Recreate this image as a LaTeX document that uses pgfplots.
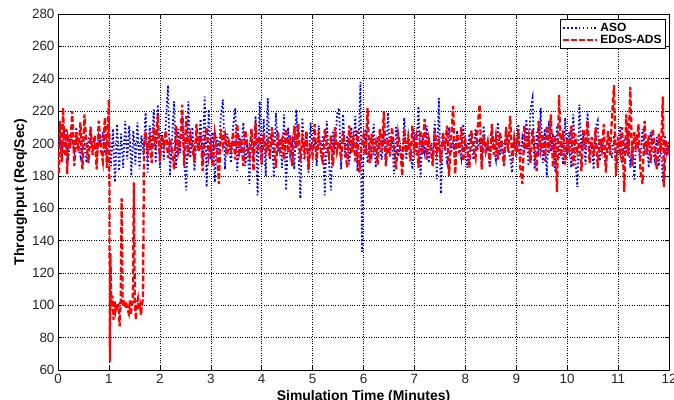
\documentclass[border=0pt]{standalone}
\usepackage{pgfplots}
\pgfplotsset{compat=1.18}
\usepackage{fontspec}
\setmainfont{Liberation Sans}

\definecolor{asoblue}{RGB}{0,0,255}
\definecolor{edosred}{RGB}{255,0,0}

\begin{document}
\begin{tikzpicture}
\path[use as bounding box] (-58bp,-30bp) rectangle (616bp,370bp);
\begin{axis}[
  scale only axis,
  width=611bp, height=356bp,
  xmin=0, xmax=12, ymin=60, ymax=280,
  xtick={0,1,...,12}, ytick={60,80,...,280},
  grid=major,
  major grid style={black, dotted, line width=0.5pt},
  axis line style={black, line width=0.6pt},
  tick style={black, line width=0.5pt},
  major tick length=4bp,
  /pgf/number format/assume math mode=true,
  ticklabel style={font=\fontsize{13.5}{15}\selectfont, text=black!85},
  xticklabel style={yshift=-1bp},
  label style={font=\bfseries\fontsize{14}{16}\selectfont},
  xlabel={Simulation Time (Minutes)},
  ylabel={Throughput (Req/Sec)},
  xlabel style={yshift=0bp},
  ylabel style={yshift=-2bp},
  legend style={at={(0.994,0.986)}, anchor=north east, draw=black,
    fill=white, font=\bfseries\fontsize{12}{13}\selectfont,
    inner sep=1.5pt, row sep=-1.5pt, line width=0.6pt},
  legend cell align=left,
  legend image code/.code={\draw[#1] (0bp,0bp) -- (34bp,0bp);},
]
% ASO
\addplot[asoblue, line width=1.8pt, dash pattern=on 1.6pt off 2.3pt] coordinates {
(0.00,198) (0.04,204) (0.08,193) (0.12,207) (0.16,199) (0.20,189) (0.24,206) (0.28,201) (0.32,195) (0.36,210)
(0.40,197) (0.44,192) (0.48,205) (0.52,199) (0.56,188) (0.60,203) (0.64,208) (0.68,196) (0.72,201) (0.76,191)
(0.80,204) (0.84,198) (0.88,207) (0.92,194) (0.96,200)
(1.00,212) (1.04,186) (1.08,209) (1.12,176) (1.16,212) (1.20,183) (1.24,206) (1.28,185) (1.32,214) (1.36,190)
(1.40,211) (1.44,180) (1.48,208) (1.52,187) (1.56,213) (1.60,184) (1.64,205) (1.68,193)
(1.72,219) (1.76,182) (1.80,211) (1.84,196) (1.88,221) (1.92,188) (1.96,224) (2.00,185) (2.04,207) (2.08,190)
(2.12,214) (2.16,236) (2.20,180) (2.24,203) (2.28,226) (2.32,185) (2.36,209) (2.40,194) (2.44,217) (2.48,188)
(2.52,171) (2.56,226) (2.60,191) (2.64,210) (2.68,183) (2.72,205) (2.76,196) (2.80,215) (2.84,189) (2.88,229)
(2.92,173) (2.96,221) (3.00,190) (3.04,207) (3.08,176) (3.12,204) (3.16,193) (3.20,218) (3.24,227) (3.28,184)
(3.32,206) (3.36,197) (3.40,188) (3.44,211) (3.48,222) (3.52,183) (3.56,205) (3.60,194) (3.64,213) (3.68,186)
(3.72,201) (3.76,175) (3.80,209) (3.84,192) (3.88,217) (3.92,168) (3.96,226) (4.00,187) (4.04,215) (4.08,180)
(4.12,228) (4.16,190) (4.20,206) (4.24,179) (4.28,219) (4.32,195) (4.36,203) (4.40,185) (4.44,218) (4.48,171)
(4.52,210) (4.56,193) (4.60,201) (4.64,184) (4.68,221) (4.72,198) (4.76,166) (4.80,216) (4.84,190) (4.88,207)
(4.92,182) (4.96,213) (5.00,195) (5.04,203) (5.08,186) (5.12,211) (5.16,192) (5.20,205) (5.24,168) (5.28,214)
(5.32,189) (5.36,171) (5.40,208) (5.44,196) (5.48,218) (5.52,222) (5.56,184) (5.60,218) (5.64,191) (5.68,205)
(5.72,187) (5.76,210) (5.80,195) (5.84,217) (5.88,183) (5.91,206) (5.94,238) (5.97,133) (6.00,196)
(6.04,209) (6.08,188) (6.12,201) (6.16,193) (6.20,212) (6.24,185) (6.28,204) (6.32,197) (6.36,190) (6.40,208)
(6.44,186) (6.48,219) (6.52,194) (6.56,203) (6.60,181) (6.64,210) (6.68,192) (6.72,199) (6.76,187) (6.80,216)
(6.84,190) (6.88,205) (6.92,196) (6.96,184) (7.00,207) (7.04,193) (7.08,223) (7.12,179) (7.16,204) (7.20,195)
(7.24,211) (7.28,188) (7.32,200) (7.36,192) (7.40,214) (7.44,178) (7.48,228) (7.52,169) (7.56,206) (7.60,197)
(7.64,189) (7.68,210) (7.72,194) (7.76,202) (7.80,186) (7.84,208) (7.88,198) (7.92,191) (7.96,212) (8.00,195)
(8.04,185) (8.08,206) (8.12,199) (8.16,190) (8.20,209) (8.24,196) (8.28,203) (8.32,188) (8.36,211) (8.40,194)
(8.44,200) (8.48,185) (8.52,207) (8.56,197) (8.60,190) (8.64,213) (8.68,193) (8.72,202) (8.76,187) (8.80,209)
(8.84,198) (8.88,191) (8.92,182) (8.96,205) (9.00,196) (9.04,212) (9.08,189) (9.12,203) (9.16,194) (9.20,215)
(9.24,186) (9.28,221) (9.32,228) (9.36,184) (9.40,207) (9.44,192) (9.48,222) (9.52,188) (9.56,209) (9.60,179)
(9.64,214) (9.68,195) (9.72,206) (9.76,183) (9.80,211) (9.84,191) (9.88,203) (9.92,187) (9.96,216) (10.00,193)
(10.04,207) (10.08,185) (10.12,218) (10.16,190) (10.20,173) (10.24,224) (10.28,196) (10.32,205) (10.36,187) (10.40,220)
(10.44,192) (10.48,201) (10.52,184) (10.56,210) (10.60,214) (10.64,189) (10.68,203) (10.72,195) (10.76,186) (10.80,208)
(10.84,197) (10.88,191) (10.92,205) (10.96,183) (11.00,199) (11.04,210) (11.08,188) (11.12,203) (11.16,194) (11.20,208)
(11.24,185) (11.28,201) (11.32,177) (11.36,206) (11.40,196) (11.44,189) (11.48,209) (11.52,193) (11.56,202) (11.60,185)
(11.64,207) (11.68,197) (11.72,190) (11.76,204) (11.80,186) (11.84,199) (11.88,176) (11.92,205) (11.96,194) (12.00,200)
};
\addlegendentry{ASO}
% EDoS-ADS
\addplot[edosred, line width=2.3pt, dash pattern=on 5.5pt off 2.5pt] coordinates {
(0.00,195) (0.02,181) (0.04,214) (0.06,196) (0.08,188) (0.10,222) (0.12,200) (0.14,192) (0.16,209) (0.18,181)
(0.20,203) (0.24,197) (0.28,220) (0.32,186) (0.36,207) (0.40,195) (0.44,213) (0.48,184) (0.52,218) (0.56,199)
(0.60,188) (0.64,210) (0.68,193) (0.72,205) (0.76,184) (0.80,214) (0.84,197) (0.88,189) (0.92,216) (0.96,185)
(0.98,212) (1.00,227) (1.01,172) (1.02,65) (1.03,132) (1.04,108) (1.05,99) (1.07,106) (1.09,91) (1.11,103)
(1.13,97) (1.15,101) (1.17,99) (1.19,100) (1.21,87) (1.23,101) (1.25,166) (1.27,101) (1.29,99) (1.31,101)
(1.33,98) (1.35,100) (1.37,97) (1.39,95) (1.41,103) (1.43,94) (1.45,100) (1.47,104) (1.49,176) (1.51,100)
(1.53,91) (1.55,101) (1.57,104) (1.59,97) (1.61,100) (1.63,94) (1.65,101) (1.67,104) (1.69,199)
(1.72,207) (1.76,194) (1.80,203) (1.84,188) (1.88,210) (1.92,197) (1.96,218) (2.00,189) (2.04,205) (2.08,199)
(2.12,208) (2.16,191) (2.20,203) (2.24,196) (2.28,184) (2.32,211) (2.36,195) (2.40,202) (2.44,224) (2.48,186)
(2.52,217) (2.56,192) (2.60,205) (2.64,198) (2.68,188) (2.72,212) (2.76,195) (2.80,207) (2.84,183) (2.88,203)
(2.92,210) (2.96,192) (3.00,200) (3.04,186) (3.08,206) (3.12,197) (3.16,175) (3.20,209) (3.24,199) (3.28,205)
(3.32,193) (3.36,201) (3.40,196) (3.44,207) (3.48,190) (3.52,212) (3.56,195) (3.60,203) (3.64,186) (3.68,208)
(3.72,198) (3.76,192) (3.80,209) (3.84,183) (3.88,213) (3.92,197) (3.96,204) (4.00,187) (4.04,206) (4.08,195)
(4.12,201) (4.16,191) (4.20,210) (4.24,198) (4.28,185) (4.32,207) (4.36,196) (4.40,202) (4.44,190) (4.48,209)
(4.52,194) (4.56,205) (4.60,186) (4.64,211) (4.68,197) (4.72,212) (4.76,189) (4.80,203) (4.84,195) (4.88,208)
(4.92,184) (4.96,200) (5.00,193) (5.04,212) (5.08,190) (5.12,204) (5.16,196) (5.20,187) (5.24,209) (5.28,199)
(5.32,192) (5.36,205) (5.40,186) (5.44,210) (5.48,195) (5.52,201) (5.56,190) (5.60,207) (5.64,197) (5.68,185)
(5.72,211) (5.76,194) (5.80,203) (5.84,189) (5.88,208) (5.92,182) (5.96,197) (6.00,205) (6.04,193) (6.08,222)
(6.12,188) (6.16,206) (6.20,196) (6.24,201) (6.28,187) (6.32,209) (6.36,195) (6.40,220) (6.44,186) (6.48,203)
(6.52,192) (6.56,210) (6.60,197) (6.64,184) (6.68,206) (6.72,198) (6.76,180) (6.80,209) (6.84,194) (6.88,202)
(6.92,189) (6.96,211) (7.00,196) (7.04,204) (7.08,185) (7.12,208) (7.16,193) (7.20,215) (7.24,190) (7.28,203)
(7.32,197) (7.36,186) (7.40,209) (7.44,195) (7.48,201) (7.52,188) (7.56,207) (7.60,196) (7.64,211) (7.68,180)
(7.72,203) (7.76,223) (7.80,181) (7.84,206) (7.88,194) (7.92,210) (7.96,189) (8.00,202) (8.04,196) (8.08,185)
(8.12,208) (8.16,197) (8.20,191) (8.24,209) (8.28,224) (8.32,184) (8.36,205) (8.40,195) (8.44,201) (8.48,187)
(8.52,212) (8.56,193) (8.60,204) (8.64,190) (8.68,207) (8.72,198) (8.76,186) (8.80,210) (8.84,195) (8.88,217)
(8.92,189) (8.96,203) (9.00,192) (9.04,208) (9.08,185) (9.12,175) (9.16,211) (9.20,196) (9.24,204) (9.28,188)
(9.32,209) (9.36,195) (9.40,183) (9.44,214) (9.48,197) (9.52,206) (9.56,189) (9.60,211) (9.64,194) (9.68,218)
(9.72,185) (9.76,205) (9.80,170) (9.84,230) (9.88,192) (9.92,208) (9.96,187) (10.00,203) (10.04,196) (10.08,211)
(10.12,186) (10.16,206) (10.20,195) (10.24,201) (10.28,183) (10.32,209) (10.36,197) (10.40,214) (10.44,188) (10.48,204)
(10.52,193) (10.56,210) (10.60,185) (10.64,203) (10.68,196) (10.72,212) (10.76,182) (10.80,207) (10.84,193) (10.88,216)
(10.92,236) (10.96,180) (11.00,204) (11.04,195) (11.08,210) (11.12,170) (11.16,218) (11.20,192) (11.24,235) (11.28,186)
(11.32,207) (11.36,196) (11.40,212) (11.44,183) (11.48,175) (11.52,214) (11.56,193) (11.60,205) (11.64,188) (11.68,209)
(11.72,197) (11.76,184) (11.80,206) (11.84,195) (11.88,229) (11.90,173) (11.94,202) (11.98,196) (12.00,201)
};
\addlegendentry{EDoS-ADS}
\end{axis}
\end{tikzpicture}
\end{document}
